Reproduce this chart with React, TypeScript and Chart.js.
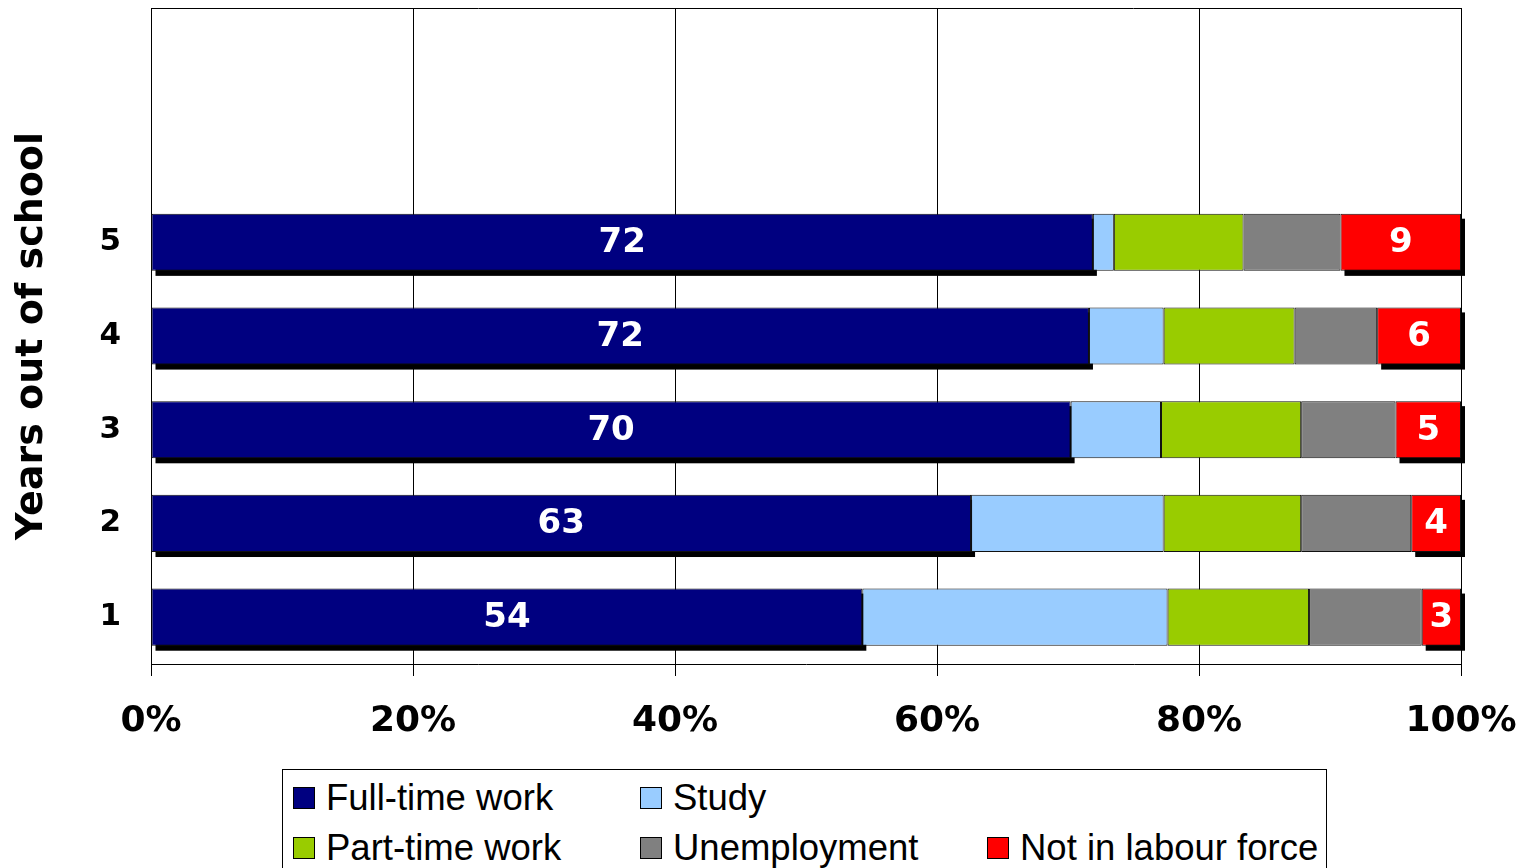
import React, { useEffect, useRef } from "react";
import { Chart, registerables } from "chart.js";

Chart.register(...registerables);

const categories = ["1", "2", "3", "4", "5"];
const emptySlots = ["", ""];
const fullTime = [54.3, 62.6, 70.2, 71.6, 71.9];
const study = [23.3, 14.7, 6.9, 5.7, 1.6];
const partTime = [10.8, 10.5, 10.7, 10.0, 9.9];
const unemployment = [8.6, 8.4, 7.2, 6.3, 7.4];
const notInLabour = [3.0, 3.8, 5.0, 6.4, 9.2];
const xTicks = [0, 20, 40, 60, 80, 100];

const seriesNames = ["Full-time work", "Study", "Part-time work", "Unemployment", "Not in labour force"];
const seriesColors = ["#000080", "#99CCFF", "#99CC00", "#808080", "#FF0000"];
const labelledSeries = [0, 4];

const shadowPlugin = {
  id: "barShadow",
  beforeDatasetsDraw(chart: any) {
    const ctx = chart.ctx;
    ctx.save();
    ctx.fillStyle = "#000";
    labelledSeries.forEach((di) => {
      const meta = chart.getDatasetMeta(di);
      meta.data.forEach((el: any) => {
        const p = el.getProps(["x", "y", "base", "height"], true);
        const left = Math.min(p.x, p.base);
        const w = Math.abs(p.x - p.base);
        ctx.fillRect(left + 4, p.y - p.height / 2 + 5, w, p.height);
      });
    });
    ctx.restore();
  },
  afterDatasetsDraw(chart: any) {
    const ctx = chart.ctx;
    ctx.save();
    ctx.fillStyle = "#fff";
    ctx.font = "bold 34px 'DejaVu Sans'";
    ctx.textAlign = "center";
    ctx.textBaseline = "middle";
    labelledSeries.forEach((di) => {
      const meta = chart.getDatasetMeta(di);
      const values = chart.data.datasets[di].data as number[];
      meta.data.forEach((el: any, i: number) => {
        const p = el.getProps(["x", "y", "base"], true);
        ctx.fillText(String(Math.round(values[i])), (p.x + p.base) / 2, p.y + 1);
      });
    });
    ctx.restore();
  },
  afterDraw(chart: any) {
    const { ctx, chartArea } = chart;
    ctx.save();
    ctx.strokeStyle = "#000";
    ctx.lineWidth = 1;
    ctx.beginPath();
    ctx.moveTo(chartArea.left, chartArea.top + 0.5);
    ctx.lineTo(chartArea.right, chartArea.top + 0.5);
    ctx.stroke();
    ctx.restore();
  },
};

export default function App() {
  const canvasRef = useRef<HTMLCanvasElement | null>(null);

  useEffect(() => {
    if (!canvasRef.current) return;
    const seriesData = [fullTime, study, partTime, unemployment, notInLabour];
    const chart = new Chart(canvasRef.current, {
      type: "bar",
      data: {
        labels: [...categories, ...emptySlots],
        datasets: seriesData.map((d, i) => ({
          label: seriesNames[i],
          data: d,
          backgroundColor: seriesColors[i],
          borderColor: "#111",
          borderWidth: 1,
          borderSkipped: false,
          barPercentage: 0.61,
          categoryPercentage: 1,
        })),
      },
      options: {
        indexAxis: "y",
        responsive: false,
        animation: false,
        events: [],
        layout: { padding: { top: 8, right: 65, left: 0, bottom: 0 } },
        plugins: { legend: { display: false }, tooltip: { enabled: false } },
        scales: {
          x: {
            stacked: true,
            min: 0,
            max: 100,
            afterBuildTicks(scale: any) {
              scale.ticks = xTicks.map((v) => ({ value: v }));
            },
            afterFit(scale: any) {
              scale.height = 96;
              scale.paddingLeft = 0;
              scale.paddingRight = 0;
              scale.paddingTop = 0;
              scale.paddingBottom = 0;
            },
            ticks: {
              color: "#000",
              font: { family: "'DejaVu Sans'", size: 36, weight: "bold" },
              padding: 24,
              maxRotation: 0,
              callback: (v: any) => v + "%",
            },
            grid: { color: "#000", lineWidth: 1, drawTicks: true, tickLength: 12, tickColor: "#000" },
            border: { display: true, color: "#000", width: 1 },
          },
          y: {
            stacked: true,
            reverse: true,
            afterFit(scale: any) {
              scale.width = 151;
              scale.paddingLeft = 0;
              scale.paddingRight = 0;
              scale.paddingTop = 0;
              scale.paddingBottom = 0;
            },
            ticks: {
              color: "#000",
              font: { family: "'DejaVu Sans'", size: 31, weight: "bold" },
              padding: 30,
            },
            grid: { display: false, drawTicks: false },
            border: { display: true, color: "#000", width: 1 },
            title: {
              display: true,
              text: "Years out of school",
              color: "#000",
              font: { family: "'DejaVu Sans'", size: 38, weight: "bold" },
              padding: { top: 9, bottom: 0 },
            },
          },
        },
      },
      plugins: [shadowPlugin],
    } as any);
    return () => chart.destroy();
  }, []);

  const legendItems = [
    { idx: 0, col: 0, row: 0 },
    { idx: 1, col: 1, row: 0 },
    { idx: 2, col: 0, row: 1 },
    { idx: 3, col: 1, row: 1 },
    { idx: 4, col: 2, row: 1 },
  ];

  return (
    <div style={{ position: "absolute", left: 0, top: 0, width: 1526, height: 868, overflow: "hidden", background: "#fff" }}>
      <canvas ref={canvasRef} width={1526} height={760} style={{ position: "absolute", left: 0, top: 0 }} />
      <div
        style={{
          position: "absolute",
          left: 282,
          top: 769,
          width: 1045,
          height: 130,
          border: "1px solid #000",
          boxSizing: "border-box",
          fontFamily: "'Liberation Sans', Arial, sans-serif",
          fontSize: 36.5,
          color: "#000",
        }}
      >
        {legendItems.map((it) => (
          <div
            key={it.idx}
            style={{
              position: "absolute",
              left: 10 + it.col * 347,
              top: 28 + it.row * 50 - 25,
              height: 50,
              display: "flex",
              alignItems: "center",
              whiteSpace: "nowrap",
            }}
          >
            <span
              style={{
                display: "inline-block",
                width: 22,
                height: 22,
                background: seriesColors[it.idx],
                border: "1px solid #000",
                boxSizing: "border-box",
                marginRight: 11,
              }}
            />
            <span>{seriesNames[it.idx]}</span>
          </div>
        ))}
      </div>
    </div>
  );
}
